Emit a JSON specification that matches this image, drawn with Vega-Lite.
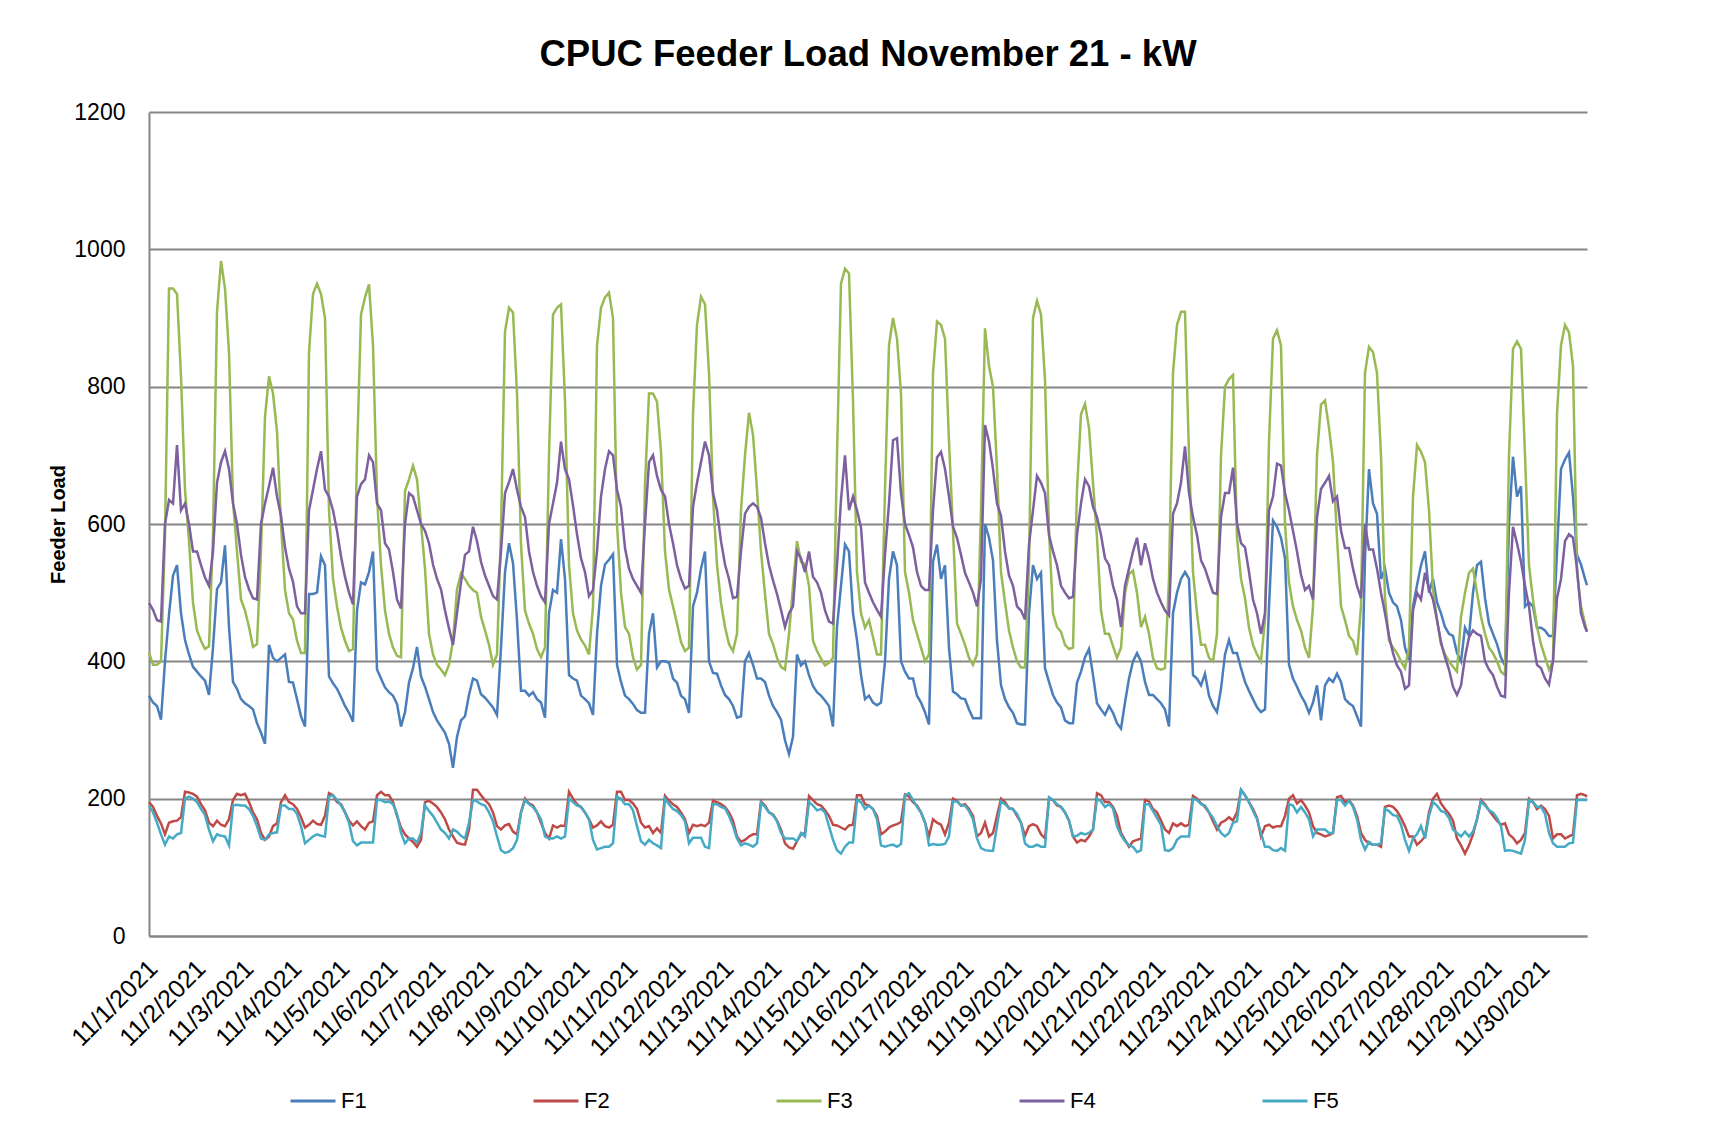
{
"$schema": "https://vega.github.io/schema/vega-lite/v6.json",
"width": 1438,
"height": 824,
"autosize": {"type": "none"},
"padding": {"left": 149, "top": 112, "right": 145, "bottom": 187},
"background": "white",
"title": {"text": "CPUC Feeder Load November 21 - kW", "font": "Liberation Sans", "fontSize": 36.5, "fontWeight": "bold", "color": "black", "anchor": "middle", "offset": 28},
"data": {"values": [
{"t":"2021-11-01T00:00Z","F1":350,"F2":195,"F3":413,"F4":485,"F5":190},
{"t":"2021-11-01T02:00Z","F1":340,"F2":188,"F3":395,"F4":475,"F5":180},
{"t":"2021-11-01T04:00Z","F1":335,"F2":175,"F3":395,"F4":460,"F5":165},
{"t":"2021-11-01T06:00Z","F1":315,"F2":164,"F3":400,"F4":458,"F5":148},
{"t":"2021-11-01T08:00Z","F1":400,"F2":148,"F3":584,"F4":600,"F5":133},
{"t":"2021-11-01T10:00Z","F1":468,"F2":165,"F3":943,"F4":635,"F5":145},
{"t":"2021-11-01T12:00Z","F1":525,"F2":167,"F3":943,"F4":630,"F5":142},
{"t":"2021-11-01T14:00Z","F1":540,"F2":168,"F3":935,"F4":715,"F5":148},
{"t":"2021-11-01T16:00Z","F1":470,"F2":173,"F3":815,"F4":620,"F5":150},
{"t":"2021-11-01T18:00Z","F1":431,"F2":210,"F3":650,"F4":630,"F5":200},
{"t":"2021-11-01T20:00Z","F1":410,"F2":209,"F3":575,"F4":600,"F5":203},
{"t":"2021-11-01T22:00Z","F1":392,"F2":207,"F3":485,"F4":560,"F5":200},
{"t":"2021-11-02T00:00Z","F1":385,"F2":203,"F3":445,"F4":560,"F5":195},
{"t":"2021-11-02T02:00Z","F1":378,"F2":192,"F3":430,"F4":540,"F5":185},
{"t":"2021-11-02T04:00Z","F1":372,"F2":183,"F3":418,"F4":522,"F5":176},
{"t":"2021-11-02T06:00Z","F1":351,"F2":165,"F3":422,"F4":510,"F5":155},
{"t":"2021-11-02T08:00Z","F1":420,"F2":160,"F3":584,"F4":560,"F5":138},
{"t":"2021-11-02T10:00Z","F1":505,"F2":168,"F3":909,"F4":660,"F5":148},
{"t":"2021-11-02T12:00Z","F1":515,"F2":162,"F3":983,"F4":690,"F5":146},
{"t":"2021-11-02T14:00Z","F1":569,"F2":160,"F3":943,"F4":706,"F5":145},
{"t":"2021-11-02T16:00Z","F1":450,"F2":170,"F3":850,"F4":680,"F5":132},
{"t":"2021-11-02T18:00Z","F1":370,"F2":198,"F3":633,"F4":630,"F5":190},
{"t":"2021-11-02T20:00Z","F1":360,"F2":207,"F3":560,"F4":600,"F5":191},
{"t":"2021-11-02T22:00Z","F1":345,"F2":205,"F3":490,"F4":555,"F5":190},
{"t":"2021-11-03T00:00Z","F1":339,"F2":207,"F3":474,"F4":523,"F5":190},
{"t":"2021-11-03T02:00Z","F1":335,"F2":195,"F3":450,"F4":505,"F5":185},
{"t":"2021-11-03T04:00Z","F1":330,"F2":180,"F3":421,"F4":492,"F5":175},
{"t":"2021-11-03T06:00Z","F1":310,"F2":170,"F3":425,"F4":490,"F5":160},
{"t":"2021-11-03T08:00Z","F1":296,"F2":150,"F3":560,"F4":600,"F5":142},
{"t":"2021-11-03T10:00Z","F1":280,"F2":140,"F3":756,"F4":630,"F5":140},
{"t":"2021-11-03T12:00Z","F1":424,"F2":145,"F3":815,"F4":655,"F5":148},
{"t":"2021-11-03T14:00Z","F1":405,"F2":160,"F3":790,"F4":682,"F5":150},
{"t":"2021-11-03T16:00Z","F1":400,"F2":164,"F3":735,"F4":640,"F5":151},
{"t":"2021-11-03T18:00Z","F1":405,"F2":195,"F3":600,"F4":612,"F5":190},
{"t":"2021-11-03T20:00Z","F1":410,"F2":205,"F3":504,"F4":566,"F5":190},
{"t":"2021-11-03T22:00Z","F1":370,"F2":195,"F3":470,"F4":535,"F5":185},
{"t":"2021-11-04T00:00Z","F1":369,"F2":192,"F3":461,"F4":516,"F5":185},
{"t":"2021-11-04T02:00Z","F1":345,"F2":185,"F3":430,"F4":480,"F5":178},
{"t":"2021-11-04T04:00Z","F1":320,"F2":173,"F3":412,"F4":470,"F5":160},
{"t":"2021-11-04T06:00Z","F1":305,"F2":158,"F3":412,"F4":470,"F5":135},
{"t":"2021-11-04T08:00Z","F1":498,"F2":162,"F3":850,"F4":620,"F5":140},
{"t":"2021-11-04T10:00Z","F1":498,"F2":168,"F3":935,"F4":650,"F5":145},
{"t":"2021-11-04T12:00Z","F1":500,"F2":163,"F3":950,"F4":680,"F5":148},
{"t":"2021-11-04T14:00Z","F1":553,"F2":162,"F3":935,"F4":706,"F5":146},
{"t":"2021-11-04T16:00Z","F1":540,"F2":175,"F3":900,"F4":650,"F5":145},
{"t":"2021-11-04T18:00Z","F1":378,"F2":208,"F3":620,"F4":640,"F5":203},
{"t":"2021-11-04T20:00Z","F1":368,"F2":205,"F3":520,"F4":620,"F5":205},
{"t":"2021-11-04T22:00Z","F1":360,"F2":195,"F3":480,"F4":590,"F5":198},
{"t":"2021-11-05T00:00Z","F1":348,"F2":192,"F3":449,"F4":553,"F5":190},
{"t":"2021-11-05T02:00Z","F1":335,"F2":180,"F3":430,"F4":523,"F5":180},
{"t":"2021-11-05T04:00Z","F1":325,"F2":168,"F3":415,"F4":500,"F5":165},
{"t":"2021-11-05T06:00Z","F1":312,"F2":161,"F3":418,"F4":483,"F5":138},
{"t":"2021-11-05T08:00Z","F1":474,"F2":167,"F3":700,"F4":640,"F5":132},
{"t":"2021-11-05T10:00Z","F1":515,"F2":160,"F3":905,"F4":658,"F5":136},
{"t":"2021-11-05T12:00Z","F1":512,"F2":155,"F3":930,"F4":665,"F5":136},
{"t":"2021-11-05T14:00Z","F1":530,"F2":165,"F3":949,"F4":700,"F5":136},
{"t":"2021-11-05T16:00Z","F1":560,"F2":167,"F3":860,"F4":690,"F5":136},
{"t":"2021-11-05T18:00Z","F1":388,"F2":205,"F3":640,"F4":630,"F5":198},
{"t":"2021-11-05T20:00Z","F1":375,"F2":210,"F3":540,"F4":620,"F5":198},
{"t":"2021-11-05T22:00Z","F1":362,"F2":205,"F3":474,"F4":572,"F5":195},
{"t":"2021-11-06T00:00Z","F1":355,"F2":205,"F3":440,"F4":563,"F5":196},
{"t":"2021-11-06T02:00Z","F1":350,"F2":195,"F3":420,"F4":530,"F5":192},
{"t":"2021-11-06T04:00Z","F1":338,"F2":175,"F3":408,"F4":490,"F5":178},
{"t":"2021-11-06T06:00Z","F1":305,"F2":158,"F3":406,"F4":477,"F5":150},
{"t":"2021-11-06T08:00Z","F1":326,"F2":148,"F3":648,"F4":600,"F5":135},
{"t":"2021-11-06T10:00Z","F1":369,"F2":142,"F3":665,"F4":645,"F5":142},
{"t":"2021-11-06T12:00Z","F1":390,"F2":137,"F3":685,"F4":640,"F5":142},
{"t":"2021-11-06T14:00Z","F1":421,"F2":130,"F3":665,"F4":620,"F5":136},
{"t":"2021-11-06T16:00Z","F1":378,"F2":140,"F3":600,"F4":600,"F5":150},
{"t":"2021-11-06T18:00Z","F1":363,"F2":195,"F3":535,"F4":590,"F5":190},
{"t":"2021-11-06T20:00Z","F1":345,"F2":197,"F3":440,"F4":572,"F5":182},
{"t":"2021-11-06T22:00Z","F1":326,"F2":193,"F3":410,"F4":541,"F5":175},
{"t":"2021-11-07T00:00Z","F1":314,"F2":188,"F3":395,"F4":520,"F5":165},
{"t":"2021-11-07T02:00Z","F1":305,"F2":180,"F3":388,"F4":505,"F5":155},
{"t":"2021-11-07T04:00Z","F1":296,"F2":170,"F3":380,"F4":474,"F5":150},
{"t":"2021-11-07T06:00Z","F1":280,"F2":155,"F3":395,"F4":448,"F5":142},
{"t":"2021-11-07T08:00Z","F1":245,"F2":145,"F3":430,"F4":424,"F5":155},
{"t":"2021-11-07T10:00Z","F1":290,"F2":136,"F3":505,"F4":470,"F5":152},
{"t":"2021-11-07T12:00Z","F1":314,"F2":134,"F3":528,"F4":515,"F5":146},
{"t":"2021-11-07T14:00Z","F1":320,"F2":133,"F3":520,"F4":555,"F5":142},
{"t":"2021-11-07T16:00Z","F1":351,"F2":155,"F3":510,"F4":560,"F5":165},
{"t":"2021-11-07T18:00Z","F1":375,"F2":213,"F3":504,"F4":596,"F5":198},
{"t":"2021-11-07T20:00Z","F1":372,"F2":213,"F3":500,"F4":575,"F5":196},
{"t":"2021-11-07T22:00Z","F1":352,"F2":205,"F3":465,"F4":545,"F5":192},
{"t":"2021-11-08T00:00Z","F1":347,"F2":198,"F3":445,"F4":525,"F5":190},
{"t":"2021-11-08T02:00Z","F1":340,"F2":192,"F3":424,"F4":510,"F5":180},
{"t":"2021-11-08T04:00Z","F1":333,"F2":180,"F3":395,"F4":495,"F5":167},
{"t":"2021-11-08T06:00Z","F1":322,"F2":160,"F3":410,"F4":490,"F5":145},
{"t":"2021-11-08T08:00Z","F1":420,"F2":155,"F3":590,"F4":560,"F5":125},
{"t":"2021-11-08T10:00Z","F1":530,"F2":161,"F3":880,"F4":645,"F5":121},
{"t":"2021-11-08T12:00Z","F1":572,"F2":163,"F3":915,"F4":661,"F5":123},
{"t":"2021-11-08T14:00Z","F1":543,"F2":152,"F3":908,"F4":680,"F5":128},
{"t":"2021-11-08T16:00Z","F1":460,"F2":148,"F3":790,"F4":650,"F5":140},
{"t":"2021-11-08T18:00Z","F1":357,"F2":180,"F3":570,"F4":625,"F5":180},
{"t":"2021-11-08T20:00Z","F1":357,"F2":200,"F3":474,"F4":610,"F5":198},
{"t":"2021-11-08T22:00Z","F1":350,"F2":193,"F3":455,"F4":560,"F5":192},
{"t":"2021-11-09T00:00Z","F1":355,"F2":190,"F3":440,"F4":530,"F5":188},
{"t":"2021-11-09T02:00Z","F1":345,"F2":180,"F3":418,"F4":510,"F5":180},
{"t":"2021-11-09T04:00Z","F1":340,"F2":165,"F3":406,"F4":495,"F5":170},
{"t":"2021-11-09T06:00Z","F1":318,"F2":150,"F3":420,"F4":486,"F5":145},
{"t":"2021-11-09T08:00Z","F1":470,"F2":142,"F3":700,"F4":600,"F5":142},
{"t":"2021-11-09T10:00Z","F1":504,"F2":161,"F3":905,"F4":630,"F5":142},
{"t":"2021-11-09T12:00Z","F1":500,"F2":158,"F3":915,"F4":660,"F5":145},
{"t":"2021-11-09T14:00Z","F1":578,"F2":161,"F3":920,"F4":720,"F5":142},
{"t":"2021-11-09T16:00Z","F1":520,"F2":160,"F3":780,"F4":680,"F5":145},
{"t":"2021-11-09T18:00Z","F1":380,"F2":210,"F3":540,"F4":665,"F5":200},
{"t":"2021-11-09T20:00Z","F1":375,"F2":200,"F3":470,"F4":627,"F5":195},
{"t":"2021-11-09T22:00Z","F1":372,"F2":192,"F3":445,"F4":585,"F5":190},
{"t":"2021-11-10T00:00Z","F1":350,"F2":188,"F3":432,"F4":550,"F5":188},
{"t":"2021-11-10T02:00Z","F1":345,"F2":180,"F3":423,"F4":530,"F5":180},
{"t":"2021-11-10T04:00Z","F1":339,"F2":170,"F3":410,"F4":495,"F5":170},
{"t":"2021-11-10T06:00Z","F1":322,"F2":158,"F3":480,"F4":504,"F5":140},
{"t":"2021-11-10T08:00Z","F1":440,"F2":161,"F3":860,"F4":560,"F5":126},
{"t":"2021-11-10T10:00Z","F1":510,"F2":167,"F3":915,"F4":640,"F5":128},
{"t":"2021-11-10T12:00Z","F1":541,"F2":160,"F3":930,"F4":680,"F5":130},
{"t":"2021-11-10T14:00Z","F1":548,"F2":158,"F3":937,"F4":706,"F5":130},
{"t":"2021-11-10T16:00Z","F1":556,"F2":162,"F3":900,"F4":700,"F5":135},
{"t":"2021-11-10T18:00Z","F1":395,"F2":210,"F3":600,"F4":650,"F5":203},
{"t":"2021-11-10T20:00Z","F1":370,"F2":210,"F3":500,"F4":625,"F5":200},
{"t":"2021-11-10T22:00Z","F1":350,"F2":198,"F3":450,"F4":565,"F5":192},
{"t":"2021-11-11T00:00Z","F1":345,"F2":198,"F3":440,"F4":535,"F5":192},
{"t":"2021-11-11T02:00Z","F1":338,"F2":193,"F3":406,"F4":520,"F5":183},
{"t":"2021-11-11T04:00Z","F1":329,"F2":185,"F3":388,"F4":510,"F5":160},
{"t":"2021-11-11T06:00Z","F1":325,"F2":165,"F3":395,"F4":500,"F5":138},
{"t":"2021-11-11T08:00Z","F1":325,"F2":158,"F3":658,"F4":600,"F5":133},
{"t":"2021-11-11T10:00Z","F1":440,"F2":160,"F3":790,"F4":690,"F5":140},
{"t":"2021-11-11T12:00Z","F1":470,"F2":150,"F3":790,"F4":700,"F5":135},
{"t":"2021-11-11T14:00Z","F1":391,"F2":157,"F3":778,"F4":670,"F5":132},
{"t":"2021-11-11T16:00Z","F1":400,"F2":150,"F3":705,"F4":650,"F5":128},
{"t":"2021-11-11T18:00Z","F1":400,"F2":204,"F3":560,"F4":640,"F5":200},
{"t":"2021-11-11T20:00Z","F1":398,"F2":197,"F3":505,"F4":600,"F5":192},
{"t":"2021-11-11T22:00Z","F1":375,"F2":192,"F3":480,"F4":572,"F5":185},
{"t":"2021-11-12T00:00Z","F1":369,"F2":188,"F3":455,"F4":540,"F5":182},
{"t":"2021-11-12T02:00Z","F1":350,"F2":180,"F3":428,"F4":520,"F5":176},
{"t":"2021-11-12T04:00Z","F1":345,"F2":170,"F3":415,"F4":506,"F5":167},
{"t":"2021-11-12T06:00Z","F1":325,"F2":150,"F3":420,"F4":510,"F5":135},
{"t":"2021-11-12T08:00Z","F1":480,"F2":162,"F3":760,"F4":625,"F5":143},
{"t":"2021-11-12T10:00Z","F1":500,"F2":160,"F3":890,"F4":660,"F5":143},
{"t":"2021-11-12T12:00Z","F1":535,"F2":162,"F3":931,"F4":690,"F5":143},
{"t":"2021-11-12T14:00Z","F1":560,"F2":160,"F3":920,"F4":720,"F5":130},
{"t":"2021-11-12T16:00Z","F1":400,"F2":165,"F3":820,"F4":700,"F5":128},
{"t":"2021-11-12T18:00Z","F1":383,"F2":197,"F3":640,"F4":645,"F5":192},
{"t":"2021-11-12T20:00Z","F1":382,"F2":195,"F3":540,"F4":620,"F5":192},
{"t":"2021-11-12T22:00Z","F1":365,"F2":192,"F3":485,"F4":575,"F5":188},
{"t":"2021-11-13T00:00Z","F1":351,"F2":188,"F3":450,"F4":541,"F5":186},
{"t":"2021-11-13T02:00Z","F1":345,"F2":180,"F3":425,"F4":520,"F5":175},
{"t":"2021-11-13T04:00Z","F1":335,"F2":168,"F3":415,"F4":492,"F5":160},
{"t":"2021-11-13T06:00Z","F1":318,"F2":145,"F3":440,"F4":494,"F5":142},
{"t":"2021-11-13T08:00Z","F1":320,"F2":137,"F3":620,"F4":560,"F5":132},
{"t":"2021-11-13T10:00Z","F1":400,"F2":140,"F3":700,"F4":615,"F5":135},
{"t":"2021-11-13T12:00Z","F1":412,"F2":145,"F3":762,"F4":625,"F5":133},
{"t":"2021-11-13T14:00Z","F1":395,"F2":148,"F3":730,"F4":630,"F5":130},
{"t":"2021-11-13T16:00Z","F1":375,"F2":148,"F3":650,"F4":625,"F5":135},
{"t":"2021-11-13T18:00Z","F1":375,"F2":196,"F3":560,"F4":609,"F5":194},
{"t":"2021-11-13T20:00Z","F1":370,"F2":190,"F3":498,"F4":572,"F5":188},
{"t":"2021-11-13T22:00Z","F1":350,"F2":180,"F3":440,"F4":540,"F5":180},
{"t":"2021-11-14T00:00Z","F1":335,"F2":177,"F3":425,"F4":518,"F5":176},
{"t":"2021-11-14T02:00Z","F1":326,"F2":168,"F3":405,"F4":498,"F5":167},
{"t":"2021-11-14T04:00Z","F1":315,"F2":155,"F3":392,"F4":475,"F5":150},
{"t":"2021-11-14T06:00Z","F1":285,"F2":135,"F3":388,"F4":450,"F5":142},
{"t":"2021-11-14T08:00Z","F1":265,"F2":129,"F3":440,"F4":470,"F5":142},
{"t":"2021-11-14T10:00Z","F1":290,"F2":127,"F3":510,"F4":480,"F5":142},
{"t":"2021-11-14T12:00Z","F1":410,"F2":138,"F3":575,"F4":560,"F5":138},
{"t":"2021-11-14T14:00Z","F1":394,"F2":148,"F3":545,"F4":550,"F5":150},
{"t":"2021-11-14T16:00Z","F1":400,"F2":150,"F3":541,"F4":530,"F5":145},
{"t":"2021-11-14T18:00Z","F1":380,"F2":204,"F3":510,"F4":560,"F5":195},
{"t":"2021-11-14T20:00Z","F1":364,"F2":198,"F3":430,"F4":523,"F5":190},
{"t":"2021-11-14T22:00Z","F1":355,"F2":192,"F3":415,"F4":515,"F5":183},
{"t":"2021-11-15T00:00Z","F1":350,"F2":190,"F3":404,"F4":500,"F5":185},
{"t":"2021-11-15T02:00Z","F1":343,"F2":183,"F3":394,"F4":474,"F5":180},
{"t":"2021-11-15T04:00Z","F1":335,"F2":175,"F3":398,"F4":458,"F5":160},
{"t":"2021-11-15T06:00Z","F1":305,"F2":162,"F3":405,"F4":455,"F5":140},
{"t":"2021-11-15T08:00Z","F1":450,"F2":161,"F3":700,"F4":540,"F5":125},
{"t":"2021-11-15T10:00Z","F1":510,"F2":158,"F3":950,"F4":635,"F5":120},
{"t":"2021-11-15T12:00Z","F1":570,"F2":155,"F3":972,"F4":700,"F5":130},
{"t":"2021-11-15T14:00Z","F1":560,"F2":161,"F3":965,"F4":620,"F5":136},
{"t":"2021-11-15T16:00Z","F1":470,"F2":162,"F3":780,"F4":640,"F5":136},
{"t":"2021-11-15T18:00Z","F1":431,"F2":205,"F3":530,"F4":620,"F5":198},
{"t":"2021-11-15T20:00Z","F1":380,"F2":205,"F3":470,"F4":595,"F5":195},
{"t":"2021-11-15T22:00Z","F1":345,"F2":192,"F3":449,"F4":515,"F5":185},
{"t":"2021-11-16T00:00Z","F1":350,"F2":190,"F3":460,"F4":500,"F5":190},
{"t":"2021-11-16T02:00Z","F1":340,"F2":185,"F3":435,"F4":486,"F5":185},
{"t":"2021-11-16T04:00Z","F1":336,"F2":175,"F3":410,"F4":475,"F5":170},
{"t":"2021-11-16T06:00Z","F1":340,"F2":148,"F3":410,"F4":465,"F5":132},
{"t":"2021-11-16T08:00Z","F1":400,"F2":152,"F3":650,"F4":555,"F5":130},
{"t":"2021-11-16T10:00Z","F1":520,"F2":158,"F3":860,"F4":630,"F5":132},
{"t":"2021-11-16T12:00Z","F1":560,"F2":161,"F3":900,"F4":722,"F5":133},
{"t":"2021-11-16T14:00Z","F1":540,"F2":163,"F3":870,"F4":725,"F5":130},
{"t":"2021-11-16T16:00Z","F1":400,"F2":166,"F3":790,"F4":645,"F5":134},
{"t":"2021-11-16T18:00Z","F1":385,"F2":206,"F3":530,"F4":600,"F5":205},
{"t":"2021-11-16T20:00Z","F1":375,"F2":203,"F3":500,"F4":584,"F5":208},
{"t":"2021-11-16T22:00Z","F1":375,"F2":195,"F3":460,"F4":566,"F5":198},
{"t":"2021-11-17T00:00Z","F1":350,"F2":190,"F3":440,"F4":530,"F5":188},
{"t":"2021-11-17T02:00Z","F1":340,"F2":180,"F3":420,"F4":510,"F5":180},
{"t":"2021-11-17T04:00Z","F1":326,"F2":165,"F3":400,"F4":504,"F5":166},
{"t":"2021-11-17T06:00Z","F1":308,"F2":145,"F3":410,"F4":504,"F5":132},
{"t":"2021-11-17T08:00Z","F1":545,"F2":170,"F3":820,"F4":620,"F5":134},
{"t":"2021-11-17T10:00Z","F1":570,"F2":165,"F3":895,"F4":697,"F5":133},
{"t":"2021-11-17T12:00Z","F1":520,"F2":162,"F3":890,"F4":705,"F5":133},
{"t":"2021-11-17T14:00Z","F1":540,"F2":148,"F3":870,"F4":680,"F5":134},
{"t":"2021-11-17T16:00Z","F1":420,"F2":165,"F3":720,"F4":640,"F5":145},
{"t":"2021-11-17T18:00Z","F1":356,"F2":200,"F3":590,"F4":596,"F5":196},
{"t":"2021-11-17T20:00Z","F1":352,"F2":197,"F3":455,"F4":580,"F5":196},
{"t":"2021-11-17T22:00Z","F1":346,"F2":190,"F3":440,"F4":555,"F5":190},
{"t":"2021-11-18T00:00Z","F1":345,"F2":192,"F3":424,"F4":529,"F5":190},
{"t":"2021-11-18T02:00Z","F1":330,"F2":185,"F3":405,"F4":515,"F5":182},
{"t":"2021-11-18T04:00Z","F1":317,"F2":175,"F3":395,"F4":500,"F5":170},
{"t":"2021-11-18T06:00Z","F1":317,"F2":145,"F3":410,"F4":480,"F5":142},
{"t":"2021-11-18T08:00Z","F1":317,"F2":150,"F3":620,"F4":520,"F5":128},
{"t":"2021-11-18T10:00Z","F1":600,"F2":165,"F3":885,"F4":744,"F5":125},
{"t":"2021-11-18T12:00Z","F1":580,"F2":145,"F3":830,"F4":720,"F5":124},
{"t":"2021-11-18T14:00Z","F1":547,"F2":150,"F3":800,"F4":680,"F5":124},
{"t":"2021-11-18T16:00Z","F1":430,"F2":175,"F3":680,"F4":630,"F5":160},
{"t":"2021-11-18T18:00Z","F1":365,"F2":200,"F3":530,"F4":612,"F5":196},
{"t":"2021-11-18T20:00Z","F1":345,"F2":195,"F3":486,"F4":560,"F5":192},
{"t":"2021-11-18T22:00Z","F1":333,"F2":186,"F3":445,"F4":525,"F5":186},
{"t":"2021-11-19T00:00Z","F1":325,"F2":185,"F3":420,"F4":510,"F5":184},
{"t":"2021-11-19T02:00Z","F1":310,"F2":175,"F3":400,"F4":480,"F5":178},
{"t":"2021-11-19T04:00Z","F1":308,"F2":165,"F3":391,"F4":474,"F5":165},
{"t":"2021-11-19T06:00Z","F1":308,"F2":146,"F3":391,"F4":461,"F5":135},
{"t":"2021-11-19T08:00Z","F1":470,"F2":160,"F3":540,"F4":570,"F5":130},
{"t":"2021-11-19T10:00Z","F1":540,"F2":163,"F3":900,"F4":620,"F5":130},
{"t":"2021-11-19T12:00Z","F1":520,"F2":160,"F3":925,"F4":670,"F5":133},
{"t":"2021-11-19T14:00Z","F1":529,"F2":148,"F3":905,"F4":660,"F5":130},
{"t":"2021-11-19T16:00Z","F1":390,"F2":142,"F3":810,"F4":645,"F5":130},
{"t":"2021-11-19T18:00Z","F1":370,"F2":200,"F3":590,"F4":584,"F5":202},
{"t":"2021-11-19T20:00Z","F1":351,"F2":198,"F3":470,"F4":560,"F5":198},
{"t":"2021-11-19T22:00Z","F1":340,"F2":190,"F3":450,"F4":540,"F5":192},
{"t":"2021-11-20T00:00Z","F1":333,"F2":188,"F3":443,"F4":510,"F5":188},
{"t":"2021-11-20T02:00Z","F1":314,"F2":180,"F3":424,"F4":500,"F5":180},
{"t":"2021-11-20T04:00Z","F1":310,"F2":168,"F3":418,"F4":492,"F5":168},
{"t":"2021-11-20T06:00Z","F1":310,"F2":145,"F3":420,"F4":494,"F5":145},
{"t":"2021-11-20T08:00Z","F1":369,"F2":136,"F3":650,"F4":584,"F5":146},
{"t":"2021-11-20T10:00Z","F1":385,"F2":140,"F3":760,"F4":630,"F5":150},
{"t":"2021-11-20T12:00Z","F1":406,"F2":138,"F3":775,"F4":665,"F5":148},
{"t":"2021-11-20T14:00Z","F1":418,"F2":145,"F3":740,"F4":655,"F5":150},
{"t":"2021-11-20T16:00Z","F1":380,"F2":155,"F3":660,"F4":625,"F5":155},
{"t":"2021-11-20T18:00Z","F1":339,"F2":208,"F3":580,"F4":610,"F5":200},
{"t":"2021-11-20T20:00Z","F1":330,"F2":205,"F3":474,"F4":584,"F5":196},
{"t":"2021-11-20T22:00Z","F1":322,"F2":195,"F3":440,"F4":550,"F5":188},
{"t":"2021-11-21T00:00Z","F1":335,"F2":195,"F3":440,"F4":540,"F5":192},
{"t":"2021-11-21T02:00Z","F1":325,"F2":188,"F3":422,"F4":510,"F5":186},
{"t":"2021-11-21T04:00Z","F1":310,"F2":175,"F3":405,"F4":490,"F5":160},
{"t":"2021-11-21T06:00Z","F1":302,"F2":150,"F3":420,"F4":450,"F5":147},
{"t":"2021-11-21T08:00Z","F1":340,"F2":140,"F3":500,"F4":510,"F5":138},
{"t":"2021-11-21T10:00Z","F1":375,"F2":130,"F3":527,"F4":535,"F5":132},
{"t":"2021-11-21T12:00Z","F1":400,"F2":138,"F3":532,"F4":560,"F5":130},
{"t":"2021-11-21T14:00Z","F1":412,"F2":140,"F3":500,"F4":580,"F5":122},
{"t":"2021-11-21T16:00Z","F1":400,"F2":142,"F3":450,"F4":540,"F5":125},
{"t":"2021-11-21T18:00Z","F1":370,"F2":198,"F3":465,"F4":572,"F5":192},
{"t":"2021-11-21T20:00Z","F1":351,"F2":196,"F3":440,"F4":550,"F5":192},
{"t":"2021-11-21T22:00Z","F1":351,"F2":185,"F3":405,"F4":520,"F5":182},
{"t":"2021-11-22T00:00Z","F1":345,"F2":180,"F3":390,"F4":500,"F5":172},
{"t":"2021-11-22T02:00Z","F1":339,"F2":168,"F3":388,"F4":486,"F5":162},
{"t":"2021-11-22T04:00Z","F1":330,"F2":155,"F3":390,"F4":474,"F5":125},
{"t":"2021-11-22T06:00Z","F1":305,"F2":150,"F3":520,"F4":467,"F5":124},
{"t":"2021-11-22T08:00Z","F1":470,"F2":164,"F3":820,"F4":615,"F5":128},
{"t":"2021-11-22T10:00Z","F1":500,"F2":160,"F3":890,"F4":630,"F5":140},
{"t":"2021-11-22T12:00Z","F1":520,"F2":164,"F3":909,"F4":660,"F5":145},
{"t":"2021-11-22T14:00Z","F1":530,"F2":160,"F3":909,"F4":713,"F5":145},
{"t":"2021-11-22T16:00Z","F1":520,"F2":162,"F3":700,"F4":645,"F5":145},
{"t":"2021-11-22T18:00Z","F1":380,"F2":204,"F3":530,"F4":610,"F5":200},
{"t":"2021-11-22T20:00Z","F1":375,"F2":200,"F3":470,"F4":584,"F5":198},
{"t":"2021-11-22T22:00Z","F1":365,"F2":193,"F3":424,"F4":547,"F5":192},
{"t":"2021-11-23T00:00Z","F1":382,"F2":188,"F3":424,"F4":535,"F5":190},
{"t":"2021-11-23T02:00Z","F1":350,"F2":180,"F3":405,"F4":517,"F5":180},
{"t":"2021-11-23T04:00Z","F1":335,"F2":167,"F3":400,"F4":500,"F5":172},
{"t":"2021-11-23T06:00Z","F1":326,"F2":155,"F3":440,"F4":498,"F5":160},
{"t":"2021-11-23T08:00Z","F1":360,"F2":165,"F3":700,"F4":610,"F5":150},
{"t":"2021-11-23T10:00Z","F1":410,"F2":168,"F3":800,"F4":645,"F5":145},
{"t":"2021-11-23T12:00Z","F1":431,"F2":173,"F3":811,"F4":645,"F5":150},
{"t":"2021-11-23T14:00Z","F1":412,"F2":168,"F3":817,"F4":682,"F5":165},
{"t":"2021-11-23T16:00Z","F1":412,"F2":180,"F3":580,"F4":602,"F5":167},
{"t":"2021-11-23T18:00Z","F1":390,"F2":213,"F3":520,"F4":572,"F5":213},
{"t":"2021-11-23T20:00Z","F1":370,"F2":205,"F3":492,"F4":566,"F5":205},
{"t":"2021-11-23T22:00Z","F1":357,"F2":195,"F3":449,"F4":530,"F5":195},
{"t":"2021-11-24T00:00Z","F1":345,"F2":185,"F3":424,"F4":490,"F5":182},
{"t":"2021-11-24T02:00Z","F1":333,"F2":172,"F3":410,"F4":470,"F5":170},
{"t":"2021-11-24T04:00Z","F1":326,"F2":145,"F3":400,"F4":440,"F5":150},
{"t":"2021-11-24T06:00Z","F1":330,"F2":160,"F3":461,"F4":470,"F5":130},
{"t":"2021-11-24T08:00Z","F1":480,"F2":162,"F3":720,"F4":620,"F5":130},
{"t":"2021-11-24T10:00Z","F1":605,"F2":158,"F3":870,"F4":640,"F5":125},
{"t":"2021-11-24T12:00Z","F1":596,"F2":160,"F3":882,"F4":688,"F5":124},
{"t":"2021-11-24T14:00Z","F1":580,"F2":160,"F3":860,"F4":685,"F5":128},
{"t":"2021-11-24T16:00Z","F1":550,"F2":175,"F3":600,"F4":645,"F5":124},
{"t":"2021-11-24T18:00Z","F1":395,"F2":200,"F3":515,"F4":620,"F5":192},
{"t":"2021-11-24T20:00Z","F1":375,"F2":205,"F3":480,"F4":590,"F5":190},
{"t":"2021-11-24T22:00Z","F1":363,"F2":193,"F3":460,"F4":560,"F5":180},
{"t":"2021-11-25T00:00Z","F1":350,"F2":198,"F3":445,"F4":526,"F5":188},
{"t":"2021-11-25T02:00Z","F1":340,"F2":190,"F3":420,"F4":504,"F5":180},
{"t":"2021-11-25T04:00Z","F1":325,"F2":180,"F3":405,"F4":510,"F5":170},
{"t":"2021-11-25T06:00Z","F1":340,"F2":160,"F3":480,"F4":490,"F5":145},
{"t":"2021-11-25T08:00Z","F1":365,"F2":150,"F3":700,"F4":609,"F5":155},
{"t":"2021-11-25T10:00Z","F1":314,"F2":148,"F3":774,"F4":651,"F5":155},
{"t":"2021-11-25T12:00Z","F1":365,"F2":145,"F3":780,"F4":660,"F5":155},
{"t":"2021-11-25T14:00Z","F1":375,"F2":147,"F3":740,"F4":670,"F5":150},
{"t":"2021-11-25T16:00Z","F1":370,"F2":150,"F3":690,"F4":633,"F5":150},
{"t":"2021-11-25T18:00Z","F1":382,"F2":202,"F3":580,"F4":640,"F5":198},
{"t":"2021-11-25T20:00Z","F1":370,"F2":204,"F3":480,"F4":590,"F5":198},
{"t":"2021-11-25T22:00Z","F1":345,"F2":195,"F3":460,"F4":565,"F5":190},
{"t":"2021-11-26T00:00Z","F1":339,"F2":198,"F3":437,"F4":565,"F5":197},
{"t":"2021-11-26T02:00Z","F1":335,"F2":190,"F3":430,"F4":535,"F5":188},
{"t":"2021-11-26T04:00Z","F1":320,"F2":175,"F3":409,"F4":510,"F5":170},
{"t":"2021-11-26T06:00Z","F1":305,"F2":150,"F3":480,"F4":492,"F5":140},
{"t":"2021-11-26T08:00Z","F1":550,"F2":140,"F3":820,"F4":600,"F5":126},
{"t":"2021-11-26T10:00Z","F1":680,"F2":135,"F3":858,"F4":563,"F5":137},
{"t":"2021-11-26T12:00Z","F1":630,"F2":133,"F3":850,"F4":563,"F5":133},
{"t":"2021-11-26T14:00Z","F1":615,"F2":133,"F3":820,"F4":535,"F5":133},
{"t":"2021-11-26T16:00Z","F1":520,"F2":130,"F3":700,"F4":500,"F5":135},
{"t":"2021-11-26T18:00Z","F1":535,"F2":188,"F3":492,"F4":470,"F5":185},
{"t":"2021-11-26T20:00Z","F1":500,"F2":190,"F3":430,"F4":437,"F5":182},
{"t":"2021-11-26T22:00Z","F1":486,"F2":188,"F3":420,"F4":412,"F5":176},
{"t":"2021-11-27T00:00Z","F1":480,"F2":182,"F3":412,"F4":394,"F5":175},
{"t":"2021-11-27T02:00Z","F1":460,"F2":172,"F3":400,"F4":385,"F5":162},
{"t":"2021-11-27T04:00Z","F1":420,"F2":160,"F3":390,"F4":360,"F5":140},
{"t":"2021-11-27T06:00Z","F1":402,"F2":145,"F3":420,"F4":365,"F5":124},
{"t":"2021-11-27T08:00Z","F1":480,"F2":145,"F3":640,"F4":474,"F5":142},
{"t":"2021-11-27T10:00Z","F1":511,"F2":133,"F3":715,"F4":500,"F5":148},
{"t":"2021-11-27T12:00Z","F1":540,"F2":138,"F3":705,"F4":490,"F5":160},
{"t":"2021-11-27T14:00Z","F1":560,"F2":145,"F3":690,"F4":529,"F5":142},
{"t":"2021-11-27T16:00Z","F1":500,"F2":180,"F3":620,"F4":505,"F5":175},
{"t":"2021-11-27T18:00Z","F1":520,"F2":200,"F3":505,"F4":490,"F5":195},
{"t":"2021-11-27T20:00Z","F1":486,"F2":207,"F3":461,"F4":460,"F5":190},
{"t":"2021-11-27T22:00Z","F1":470,"F2":193,"F3":425,"F4":428,"F5":182},
{"t":"2021-11-28T00:00Z","F1":450,"F2":185,"F3":410,"F4":406,"F5":180},
{"t":"2021-11-28T02:00Z","F1":440,"F2":178,"F3":400,"F4":388,"F5":172},
{"t":"2021-11-28T04:00Z","F1":437,"F2":168,"F3":392,"F4":363,"F5":155},
{"t":"2021-11-28T06:00Z","F1":412,"F2":142,"F3":385,"F4":351,"F5":150},
{"t":"2021-11-28T08:00Z","F1":400,"F2":132,"F3":465,"F4":365,"F5":145},
{"t":"2021-11-28T10:00Z","F1":449,"F2":120,"F3":500,"F4":406,"F5":152},
{"t":"2021-11-28T12:00Z","F1":437,"F2":132,"F3":529,"F4":435,"F5":145},
{"t":"2021-11-28T14:00Z","F1":500,"F2":148,"F3":535,"F4":445,"F5":152},
{"t":"2021-11-28T16:00Z","F1":540,"F2":170,"F3":500,"F4":440,"F5":170},
{"t":"2021-11-28T18:00Z","F1":545,"F2":198,"F3":465,"F4":437,"F5":196},
{"t":"2021-11-28T20:00Z","F1":492,"F2":192,"F3":440,"F4":400,"F5":190},
{"t":"2021-11-28T22:00Z","F1":455,"F2":183,"F3":420,"F4":388,"F5":183},
{"t":"2021-11-29T00:00Z","F1":440,"F2":175,"F3":412,"F4":380,"F5":180},
{"t":"2021-11-29T02:00Z","F1":425,"F2":168,"F3":400,"F4":363,"F5":172},
{"t":"2021-11-29T04:00Z","F1":405,"F2":162,"F3":385,"F4":350,"F5":160},
{"t":"2021-11-29T06:00Z","F1":394,"F2":164,"F3":380,"F4":348,"F5":124},
{"t":"2021-11-29T08:00Z","F1":600,"F2":148,"F3":700,"F4":500,"F5":125},
{"t":"2021-11-29T10:00Z","F1":698,"F2":143,"F3":855,"F4":596,"F5":124},
{"t":"2021-11-29T12:00Z","F1":640,"F2":135,"F3":866,"F4":572,"F5":122},
{"t":"2021-11-29T14:00Z","F1":655,"F2":140,"F3":855,"F4":545,"F5":120},
{"t":"2021-11-29T16:00Z","F1":480,"F2":150,"F3":700,"F4":510,"F5":140},
{"t":"2021-11-29T18:00Z","F1":486,"F2":200,"F3":540,"F4":480,"F5":198},
{"t":"2021-11-29T20:00Z","F1":480,"F2":195,"F3":490,"F4":430,"F5":195},
{"t":"2021-11-29T22:00Z","F1":449,"F2":185,"F3":450,"F4":395,"F5":188},
{"t":"2021-11-30T00:00Z","F1":449,"F2":190,"F3":425,"F4":390,"F5":188},
{"t":"2021-11-30T02:00Z","F1":445,"F2":185,"F3":406,"F4":375,"F5":178},
{"t":"2021-11-30T04:00Z","F1":437,"F2":175,"F3":388,"F4":366,"F5":150},
{"t":"2021-11-30T06:00Z","F1":437,"F2":142,"F3":400,"F4":400,"F5":135},
{"t":"2021-11-30T08:00Z","F1":560,"F2":148,"F3":760,"F4":492,"F5":130},
{"t":"2021-11-30T10:00Z","F1":680,"F2":148,"F3":860,"F4":520,"F5":130},
{"t":"2021-11-30T12:00Z","F1":694,"F2":142,"F3":890,"F4":575,"F5":130},
{"t":"2021-11-30T14:00Z","F1":704,"F2":145,"F3":879,"F4":585,"F5":135},
{"t":"2021-11-30T16:00Z","F1":640,"F2":148,"F3":830,"F4":580,"F5":136},
{"t":"2021-11-30T18:00Z","F1":555,"F2":205,"F3":530,"F4":535,"F5":198},
{"t":"2021-11-30T20:00Z","F1":541,"F2":207,"F3":480,"F4":470,"F5":198},
{"t":"2021-11-30T22:00Z","F1":520,"F2":205,"F3":455,"F4":450,"F5":198},
{"t":"2021-11-30T23:00Z","F1":511,"F2":203,"F3":443,"F4":443,"F5":198}
]},
"transform": [{"fold": ["F1", "F2", "F3", "F4", "F5"], "as": ["Feeder", "kW"]}],
"mark": {"type": "line", "strokeWidth": 2.5},
"encoding": {
  "x": {
    "field": "t", "type": "temporal",
    "scale": {"type": "utc", "nice": false, "domain": [{"year": 2021, "month": 11, "date": 1, "utc": true}, {"year": 2021, "month": 11, "date": 30, "hours": 23, "utc": true}]},
    "axis": {"title": null, "tickCount": {"interval": "day", "step": 1}, "format": "%-m/%-d/%Y", "labelAngle": -45, "labelAlign": "right", "labelBaseline": "middle", "labelPadding": 28, "labelOffset": 4, "labelFont": "Liberation Sans", "labelFontSize": 25, "labelColor": "black", "ticks": false, "grid": false, "domainColor": "#868686", "domainWidth": 2, "labelOverlap": false, "labelFlush": false, "labelBound": false}
  },
  "y": {
    "field": "kW", "type": "quantitative",
    "scale": {"domain": [0, 1200], "nice": false},
    "axis": {"title": "Feeder Load", "values": [0, 200, 400, 600, 800, 1000, 1200], "format": "d", "titleFont": "Liberation Sans", "titleFontSize": 20, "titleFontWeight": "bold", "titleColor": "black", "titlePadding": 5, "labelFont": "Liberation Sans", "labelFontSize": 23, "labelColor": "black", "labelPadding": 24, "ticks": false, "grid": true, "gridColor": "#868686", "gridWidth": 2, "domainColor": "#868686", "domainWidth": 2}
  },
  "color": {
    "field": "Feeder", "type": "nominal",
    "scale": {"domain": ["F1", "F2", "F3", "F4", "F5"], "range": ["#4A7EBB", "#BE4B48", "#98B954", "#7D60A0", "#46AAC5"]},
    "legend": {"title": null, "orient": "none", "legendX": 140, "legendY": 965, "direction": "horizontal", "columns": 5, "gridAlign": "all", "columnPadding": 160, "symbolType": "stroke", "symbolSize": 2025, "symbolStrokeWidth": 3, "labelFont": "Liberation Sans", "labelFontSize": 22, "labelColor": "black", "labelOffset": 4, "padding": 0}
  }
},
"config": {"view": {"stroke": null}}
}
